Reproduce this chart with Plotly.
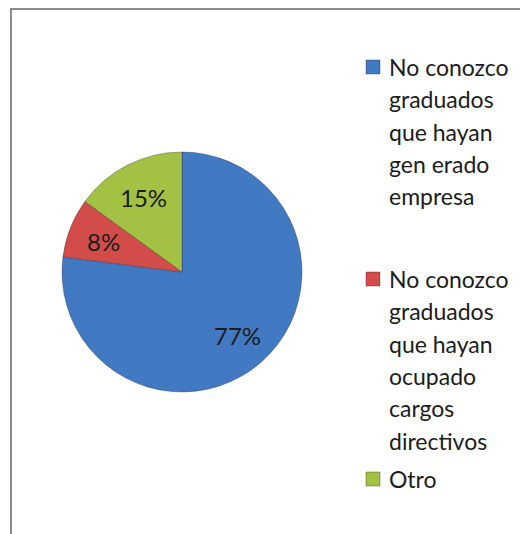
import math
import plotly.graph_objects as go

categories = [
    "No conozco graduados que hayan gen erado empresa",
    "No conozco graduados que hayan ocupado cargos directivos",
    "Otro",
]
legend_lines = [
    ["No conozco", "graduados", "que hayan", "gen erado", "empresa"],
    ["No conozco", "graduados", "que hayan", "ocupado", "cargos", "directivos"],
    ["Otro"],
]
values = [77, 8, 15]
colors = ["#4279C3", "#D24D49", "#A3C243"]

# page has an 8px body margin, so the figure starts at (8, 8) in the window
OFF = 8
W, H = 528 - OFF, 534 - OFF
FONT = "Lato"


def px_x(x):
    return (x - OFF) / W


def px_y(y):
    return 1 - (y - OFF) / H


# pie geometry (window pixels)
CX, CY, R = 182, 272, 120

fig = go.Figure()
fig.add_trace(go.Pie(
    labels=categories,
    values=values,
    sort=False,
    direction="clockwise",
    rotation=0,
    marker=dict(colors=colors, line=dict(color="rgba(40,40,60,0.35)", width=1)),
    textinfo="none",
    domain=dict(x=[px_x(CX - R), px_x(CX + R)], y=[px_y(CY + R), px_y(CY - R)]),
    showlegend=False,
    hoverinfo="label+percent",
))

annotations = []
# percentage labels placed at each slice's mid-angle, computed from the data
total = sum(values)
cum = 0
for v in values:
    mid = (cum + v / 2) / total * 2 * math.pi
    cum += v
    lx = CX + 0.70 * R * math.sin(mid)
    ly = CY - 0.70 * R * math.cos(mid)
    annotations.append(dict(
        xref="paper", yref="paper", x=px_x(lx), y=px_y(ly),
        xanchor="center", yanchor="middle", showarrow=False,
        text=f"{round(100 * v / total)}%",
        font=dict(family=FONT, size=24, color="#1c1c1c"),
    ))

# custom legend (marker squares + wrapped text lines)
item_tops = [67, 279, 479]
pitch = 32.3
shapes = [dict(type="rect", xref="paper", yref="paper",
               x0=px_x(11), x1=1.2, y0=-0.2, y1=px_y(9),
               line=dict(color="#8a8a8a", width=2), fillcolor="rgba(0,0,0,0)")]
for i, lines in enumerate(legend_lines):
    y0 = item_tops[i]
    shapes.append(dict(type="rect", xref="paper", yref="paper",
                       x0=px_x(366), x1=px_x(380),
                       y0=px_y(y0 + 7), y1=px_y(y0 - 7),
                       fillcolor=colors[i], line=dict(color="rgba(30,30,30,0.35)", width=1)))
    for j, txt in enumerate(lines):
        annotations.append(dict(
            xref="paper", yref="paper", x=px_x(387), y=px_y(y0 + j * pitch),
            xanchor="left", yanchor="middle", text=txt, showarrow=False,
            font=dict(family=FONT, size=23, color="#1c1c1c"),
        ))

fig.update_layout(
    width=W, height=H,
    margin=dict(l=0, r=0, t=0, b=0),
    paper_bgcolor="white",
    plot_bgcolor="white",
    shapes=shapes,
    annotations=annotations,
)

fig.write_html("out.html")
